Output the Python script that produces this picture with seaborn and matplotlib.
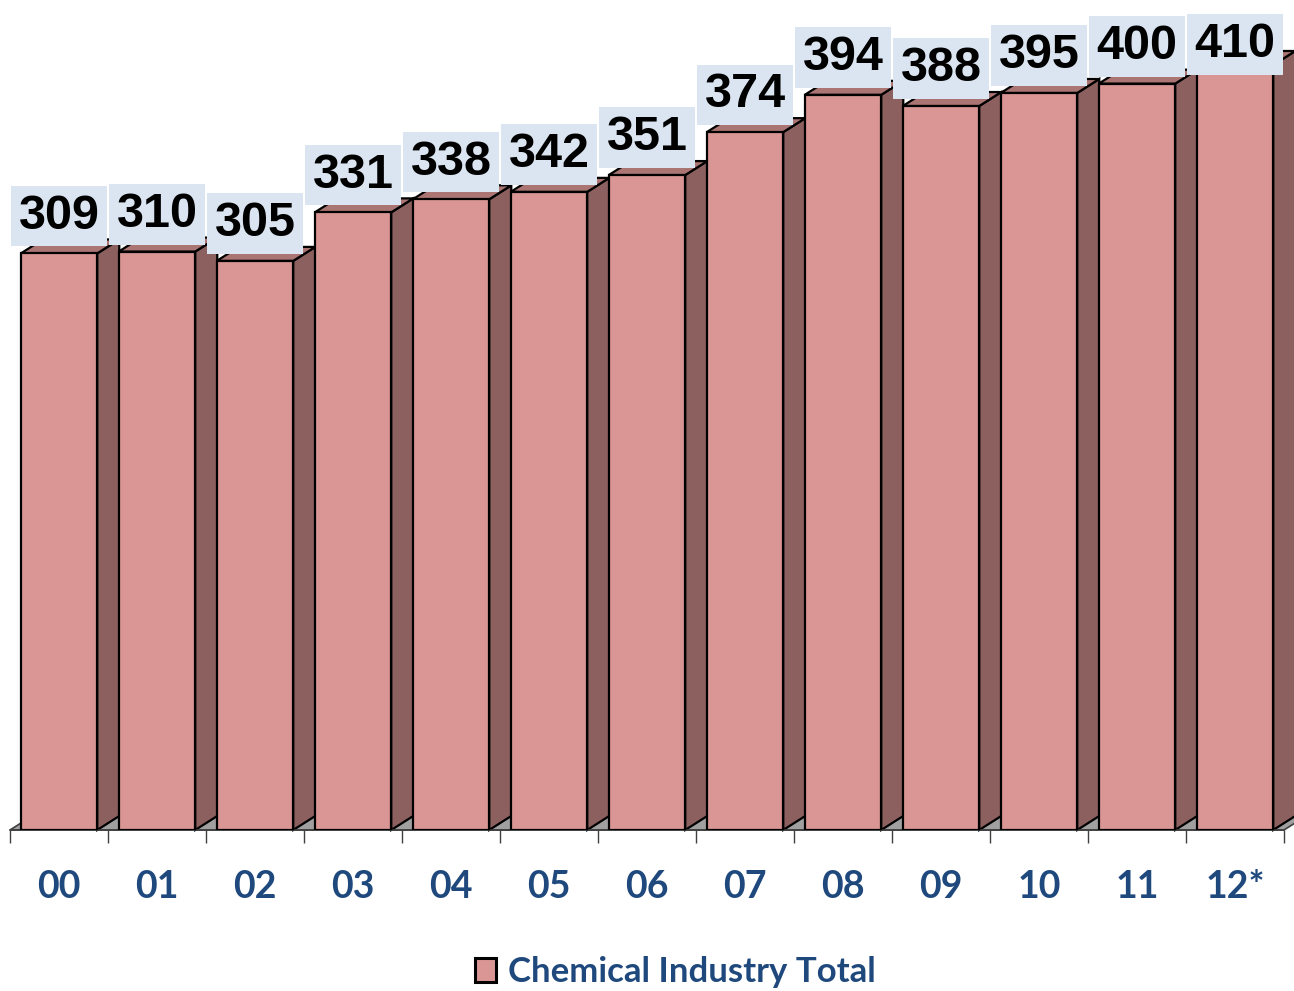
import matplotlib
matplotlib.use("Agg")
import matplotlib.pyplot as plt
import seaborn as sns
from matplotlib.patches import Polygon

# data
years = ["00", "01", "02", "03", "04", "05", "06", "07", "08", "09", "10", "11", "12*"]
totals = [309, 310, 305, 331, 338, 342, 351, 374, 394, 388, 395, 400, 410]
series_name = "Chemical Industry Total"

front_col = "#D99694"
side_col = "#8C605E"
top_col = "#AB7573"
label_bg = "#DBE5F1"
blue = "#1F497D"

sns.set_style("white")
plt.rcParams["font.family"] = ["Liberation Sans", "DejaVu Sans"]

fig = plt.figure(figsize=(12.94, 9.91), dpi=100)
ax = fig.add_axes([10 / 1294, 161 / 991, 1274 / 1294, 821 / 991])

sns.barplot(x=years, y=totals, color=front_col, saturation=1, width=0.78,
            edgecolor="black", linewidth=1.6, label=series_name, ax=ax, zorder=3)
if ax.get_legend() is not None:
    ax.get_legend().remove()

ax.set_xlim(-0.5, 12.5)
ax.set_ylim(0, 440)

# 3d look: depth offset in data units
dx = 0.225
dy = 7.5

floor = Polygon([(-0.5, 0), (12.5, 0), (12.5 + dx, dy), (-0.5 + dx, dy)],
                closed=True, facecolor="#A0A0A0", edgecolor="#404040", lw=1.2,
                zorder=1, clip_on=False)
ax.add_patch(floor)

for bar, val in zip(ax.patches[:len(totals)], totals):
    x0 = bar.get_x()
    x1 = x0 + bar.get_width()
    h = bar.get_height()
    side = Polygon([(x1, 0), (x1 + dx, dy), (x1 + dx, h + dy), (x1, h)], closed=True,
                   facecolor=side_col, edgecolor="black", lw=1.6, zorder=2, clip_on=False)
    top = Polygon([(x0, h), (x1, h), (x1 + dx, h + dy), (x0 + dx, h + dy)], closed=True,
                  facecolor=top_col, edgecolor="black", lw=1.6, zorder=2, clip_on=False)
    ax.add_patch(side)
    ax.add_patch(top)
    # labels pushed down when they would leave the plot area
    ly = min(h + 20, 421)
    ax.text((x0 + x1) / 2, ly, str(val), ha="center", va="center",
            fontsize=35, fontweight="bold", color="black", zorder=5, clip_on=False,
            bbox=dict(boxstyle="square,pad=0.16", facecolor=label_bg, edgecolor="none"))

sns.despine(ax=ax, left=True, top=True, right=True)
ax.spines["bottom"].set_color("#404040")
ax.spines["bottom"].set_linewidth(1.2)
ax.set_yticks([])
ax.set_xticks(range(len(years)))
ax.set_xticklabels(years, fontsize=27, fontweight="bold", color=blue, family="Lato")
ax.tick_params(axis="x", which="major", bottom=False, length=0, pad=29)
ax.set_xticks([i - 0.5 for i in range(len(years) + 1)], minor=True)
ax.tick_params(axis="x", which="minor", bottom=True, length=9, width=1,
               color="#404040", direction="out")
ax.set_xlabel("")

leg = fig.legend(loc="center", bbox_to_anchor=(0.522, 0.019), frameon=False,
                 handlelength=0.6, handleheight=0.65, handletextpad=0.35,
                 prop={"family": "Lato", "weight": "bold", "size": 25})
for t in leg.get_texts():
    t.set_color(blue)
for hnd in leg.legend_handles:
    hnd.set_edgecolor("black")
    hnd.set_linewidth(2.2)

fig.savefig("out.png", dpi=100)
